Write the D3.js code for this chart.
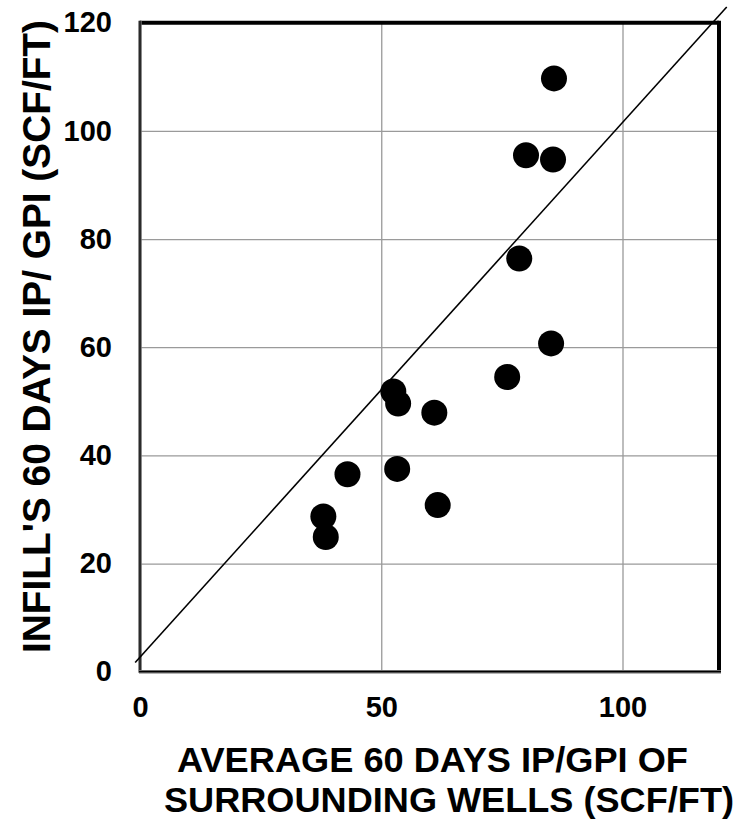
<!DOCTYPE html>
<html><head><meta charset="utf-8">
<script src="https://cdn.jsdelivr.net/npm/d3@7"></script>
<style>html,body{margin:0;padding:0;background:#fff;}</style>
</head><body>
<script>
const avgSurrounding = [85.8, 80.0, 85.6, 78.6, 85.2, 76.1, 52.5, 53.5, 61.0, 43.0, 53.3, 61.7, 38.0, 38.5];
const infillIP      = [109.7, 95.5, 94.7, 76.4, 60.7, 54.5, 51.8, 49.6, 47.9, 36.5, 37.5, 30.8, 28.7, 24.9];
const xTicks = [0, 50, 100];
const yTicks = [0, 20, 40, 60, 80, 100, 120];
const lineX = [-1.0, 121.6];
const lineY = [1.7, 122.9];
const xTitleLines = ["AVERAGE 60 DAYS IP/GPI OF", "SURROUNDING WELLS (SCF/FT)"];
const yTitle = "INFILL'S 60 DAYS IP/ GPI (SCF/FT)";

const W = 739, H = 821;
const L = 140, R = 719, T = 22.7, B = 671.7;
const svg = d3.select("body").append("svg").attr("width", W).attr("height", H);
const x = d3.scaleLinear().domain([0, 120]).range([L, R]);
const y = d3.scaleLinear().domain([0, 120]).range([B, T]);
const font = "'Liberation Sans', Arial, sans-serif";

// gridlines
const gx = svg.append("g").attr("transform", `translate(0,${B})`)
  .call(d3.axisBottom(x).tickValues(xTicks).tickSize(-(B - T)).tickFormat(""));
const gy = svg.append("g").attr("transform", `translate(${L},0)`)
  .call(d3.axisLeft(y).tickValues(yTicks).tickSize(-(R - L)).tickFormat(""));
[gx, gy].forEach(g => { g.select(".domain").remove(); g.selectAll("line").attr("stroke", "#9a9a9a").attr("stroke-width", 1.3); });

// tick labels via axes
const lx = svg.append("g").attr("transform", `translate(0,${B})`)
  .call(d3.axisBottom(x).tickValues(xTicks).tickSize(0).tickPadding(25).tickFormat(d3.format("d")));
const ly = svg.append("g").attr("transform", `translate(${L},0)`)
  .call(d3.axisLeft(y).tickValues(yTicks).tickSize(0).tickPadding(28).tickFormat(d3.format("d")));
[lx, ly].forEach(g => { g.select(".domain").remove();
  g.attr("font-size", null).attr("font-family", null);
  g.selectAll("text").attr("font-family", font).attr("font-weight", "bold").attr("font-size", 29).attr("fill", "#000"); });

// plot border
svg.append("line").attr("x1", L).attr("x2", R).attr("y1", T).attr("y2", T).attr("stroke", "#000").attr("stroke-width", 4);
svg.append("line").attr("x1", R).attr("x2", R).attr("y1", T - 2).attr("y2", B + 1).attr("stroke", "#000").attr("stroke-width", 4);
svg.append("line").attr("x1", L).attr("x2", L).attr("y1", T - 2).attr("y2", B + 1).attr("stroke", "#6b6b6b").attr("stroke-width", 3.5);
svg.append("line").attr("x1", L).attr("x2", L).attr("y1", T - 2).attr("y2", B + 1).attr("stroke", "#000").attr("stroke-width", 1.2);
svg.append("line").attr("x1", L - 1).attr("x2", R + 2).attr("y1", B).attr("y2", B).attr("stroke", "#6b6b6b").attr("stroke-width", 3.5);
svg.append("line").attr("x1", L - 1).attr("x2", R + 2).attr("y1", B).attr("y2", B).attr("stroke", "#000").attr("stroke-width", 1.2);

// 1:1 line
svg.append("line")
  .attr("x1", x(lineX[0])).attr("y1", y(lineY[0]))
  .attr("x2", x(lineX[1])).attr("y2", y(lineY[1]))
  .attr("stroke", "#000").attr("stroke-width", 1.6);

// points
svg.append("g").selectAll("circle").data(avgSurrounding.map((v, i) => [v, infillIP[i]]))
  .join("circle").attr("cx", d => x(d[0])).attr("cy", d => y(d[1])).attr("r", 13).attr("fill", "#000");

// titles
const xTitleBase = [772, 812];
const xTitleCenter = [432.5, 449];
const xTitleLen = [511, 570];
xTitleLines.forEach((t, i) => {
  svg.append("text").attr("font-family", font).attr("font-weight", "bold").attr("font-size", 35)
    .attr("text-anchor", "middle").attr("fill", "#000")
    .attr("x", xTitleCenter[i]).attr("y", xTitleBase[i])
    .attr("textLength", xTitleLen[i]).attr("lengthAdjust", "spacingAndGlyphs").text(t);
});

svg.append("text").attr("font-family", font).attr("font-weight", "bold").attr("font-size", 39)
  .attr("text-anchor", "middle").attr("fill", "#000")
  .attr("textLength", 633).attr("lengthAdjust", "spacingAndGlyphs")
  .attr("transform", `translate(50,336.5) rotate(-90)`).text(yTitle);
</script>
</body></html>
